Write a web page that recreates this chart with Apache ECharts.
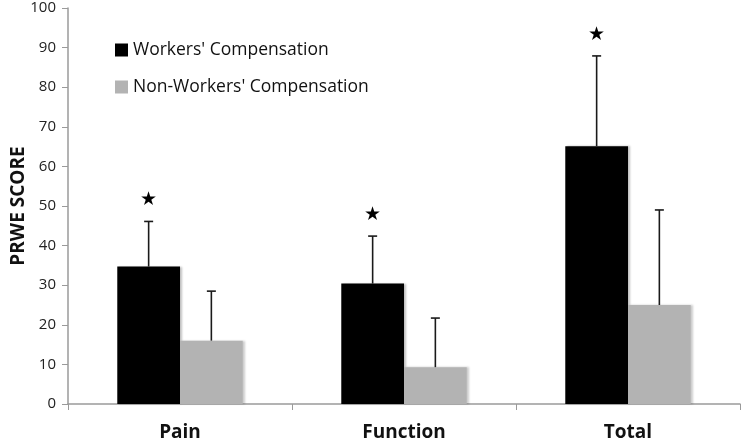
<!DOCTYPE html>
<html>
<head>
<meta charset="utf-8">
<script src="https://cdn.jsdelivr.net/npm/echarts@6/dist/echarts.min.js"></script>
<style>
  html, body { margin: 0; padding: 0; background: #fff; }
  #chart { width: 742px; height: 444px; }
</style>
</head>
<body>
<div id="chart"></div>
<script>
// categories and values
const categories = ['Pain', 'Function', 'Total'];
const wcMean = [34.7, 30.4, 65.1];
const wcSD = [11.4, 12.0, 22.8];
const nwcMean = [16.0, 9.3, 25.0];
const nwcSD = [12.5, 12.4, 24.0];
const significant = [true, true, true]; // star above the WC bar
const yTicks = { min: 0, max: 100, interval: 10 };

const chart = echarts.init(document.getElementById('chart'));

// error bar drawn from the mean up to mean + sd, with a cap on top
function errorBar(means, sds, side, stars) {
  return function (params, api) {
    const i = api.value(0);
    const band = api.size([1, 0])[0];
    const dx = side * band * 0.14;
    const base = api.coord([i, means[i]]);
    const top = api.coord([i, means[i] + sds[i]]);
    const x = base[0] + dx;
    const children = [
      { type: 'line', shape: { x1: x, y1: base[1], x2: x, y2: top[1] },
        style: { stroke: '#1a1a1a', lineWidth: 1.6 } },
      { type: 'line', shape: { x1: x - 4.5, y1: top[1], x2: x + 4.5, y2: top[1] },
        style: { stroke: '#1a1a1a', lineWidth: 1.6 } }
    ];
    if (stars && stars[i]) {
      children.push({ type: 'text', style: {
        text: '★', x: x, y: top[1] - 21, align: 'center', verticalAlign: 'middle',
        fontSize: 19, fill: '#000', fontFamily: 'DejaVu Sans' } });
    }
    return { type: 'group', children: children };
  };
}

chart.setOption({
  backgroundColor: '#fff',
  animation: false,
  grid: { left: 68, right: 2, top: 8, bottom: 40, outerBoundsMode: 'none', containLabel: false },
  legend: {
    orient: 'vertical',
    left: 110,
    top: 36,
    itemWidth: 13,
    itemHeight: 13,
    itemGap: 19,
    icon: 'rect',
    textStyle: { fontSize: 17.5, color: '#111', fontFamily: 'Open Sans' },
    data: ["Workers' Compensation", "Non-Workers' Compensation"]
  },
  xAxis: {
    type: 'category',
    data: categories,
    axisLine: { lineStyle: { color: '#9a9a9a', width: 1.5 } },
    axisTick: { show: true, length: 6, lineStyle: { color: '#9a9a9a' } },
    axisLabel: { fontSize: 19, fontWeight: 'bold', color: '#111', margin: 19, fontFamily: 'Open Sans' }
  },
  yAxis: {
    type: 'value',
    min: yTicks.min,
    max: yTicks.max,
    interval: yTicks.interval,
    name: 'PRWE SCORE',
    nameLocation: 'middle',
    nameGap: 40,
    nameMoveOverlap: false,
    nameTextStyle: { fontSize: 19, fontWeight: 'bold', color: '#111', fontFamily: 'Open Sans' },
    axisLine: { show: true, lineStyle: { color: '#9a9a9a', width: 1.5 } },
    axisTick: { show: true, length: 6, lineStyle: { color: '#9a9a9a' } },
    axisLabel: { fontSize: 15, color: '#222', margin: 12, fontFamily: 'Open Sans' },
    splitLine: { show: false }
  },
  series: [
    {
      name: "Workers' Compensation",
      type: 'bar',
      data: wcMean,
      barWidth: '28%',
      barGap: '0%',
      itemStyle: { color: '#000', shadowColor: 'rgba(0,0,0,0.25)', shadowOffsetX: 2, shadowBlur: 2 }
    },
    {
      name: "Non-Workers' Compensation",
      type: 'bar',
      data: nwcMean,
      barWidth: '28%',
      barGap: '0%',
      itemStyle: { color: '#b3b3b3', shadowColor: 'rgba(0,0,0,0.2)', shadowOffsetX: 2, shadowBlur: 2 }
    },
    {
      type: 'custom',
      renderItem: errorBar(wcMean, wcSD, -1, significant),
      data: categories.map((c, i) => [i]),
      z: 5
    },
    {
      type: 'custom',
      renderItem: errorBar(nwcMean, nwcSD, 1, null),
      data: categories.map((c, i) => [i]),
      z: 5
    }
  ]
});
</script>
</body>
</html>
